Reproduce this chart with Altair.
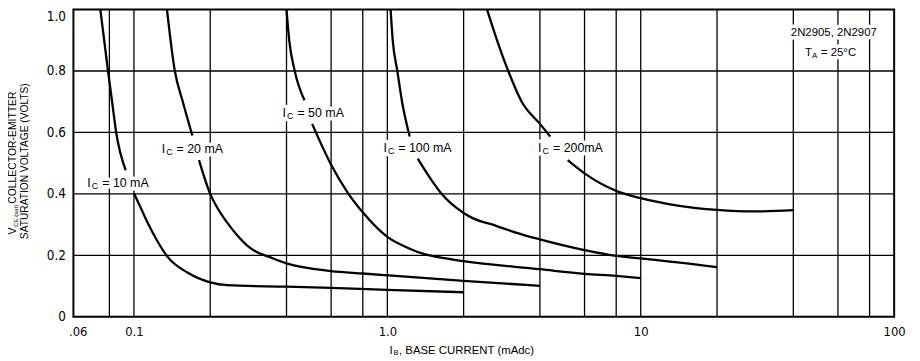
import altair as alt
import pandas as pd

# ---------------- data ----------------
# I_C = 10 mA  (segment a above the label, segment b below it)
IB_10MA_A = [0.0737, 0.079, 0.082, 0.0851, 0.0928]
VCE_10MA_A = [1.0, 0.8, 0.7, 0.6, 0.477]
IB_10MA_B = [0.1, 0.107, 0.1134, 0.123, 0.1358, 0.1626, 0.2, 0.233, 0.4, 0.6, 1.0, 2.0]
VCE_10MA_B = [0.402, 0.35, 0.305, 0.25, 0.195, 0.144, 0.112, 0.103, 0.098, 0.094, 0.088, 0.080]

# I_C = 20 mA
IB_20MA_A = [0.135, 0.145, 0.1555, 0.170]
VCE_20MA_A = [1.0, 0.8, 0.703, 0.59]
IB_20MA_B = [0.1806, 0.2, 0.215, 0.2326, 0.254, 0.28, 0.30, 0.342, 0.4, 0.6, 0.8, 1.0, 2.0, 4.0]
VCE_20MA_B = [0.51, 0.40, 0.35, 0.308, 0.268, 0.232, 0.214, 0.195, 0.174, 0.149, 0.141, 0.135, 0.117, 0.101]

# I_C = 50 mA
IB_50MA_A = [0.40, 0.41, 0.431, 0.471]
VCE_50MA_A = [1.0, 0.9, 0.8, 0.705]
IB_50MA_B = [0.505, 0.6, 0.694, 0.8, 1.0, 1.2, 1.414, 1.7, 2.0, 4.0, 6.0, 8.0, 10.0]
VCE_50MA_B = [0.628, 0.495, 0.407, 0.34, 0.26, 0.225, 0.203, 0.19, 0.181, 0.155, 0.14, 0.133, 0.126]

# I_C = 100 mA
IB_100MA_A = [1.03, 1.05, 1.095, 1.143, 1.225]
VCE_100MA_A = [1.0, 0.9, 0.8, 0.7, 0.587]
IB_100MA_B = [1.318, 1.48, 1.65, 2.0, 2.16, 2.67, 3.19, 4.0, 6.0, 8.0, 10.0, 20.0]
VCE_100MA_B = [0.515, 0.45, 0.397, 0.338, 0.322, 0.297, 0.275, 0.252, 0.217, 0.198, 0.19, 0.162]

# I_C = 200 mA
IB_200MA_A = [2.475, 2.71, 3.0, 3.39, 4.0, 4.39]
VCE_200MA_A = [1.0, 0.9, 0.8, 0.7, 0.628, 0.587]
IB_200MA_B = [5.15, 6.0, 8.0, 10.0, 14.0, 20.0, 28.0, 40.0]
VCE_200MA_B = [0.51, 0.467, 0.41, 0.386, 0.362, 0.348, 0.343, 0.347]

# grid and ticks
GRID_X = [0.08, 0.1, 0.2, 0.4, 0.6, 0.8, 1, 2, 4, 6, 8, 10, 20, 40, 60, 80]
GRID_Y = [0.2, 0.4, 0.6, 0.8]
X_TICKS = [0.06, 0.1, 1, 10, 100]
Y_TICKS = [0, 0.2, 0.4, 0.6, 0.8, 1.0]

# curve labels (left edge of label, vertical centre)
LABEL_IB = [0.0655, 0.1287, 0.386, 0.965, 3.935]
LABEL_VCE = [0.436, 0.547, 0.664, 0.549, 0.549]
LABEL_REST = ["= 10 mA", "= 20 mA", "= 50 mA", "= 100 mA", "= 200mA"]

# device note
NOTE_IB = [57.8]
NOTE_VCE = [0.924]
NOTE_TEXT = ["2N2905, 2N2907"]
TEMP_IB = [44.5]
TEMP_VCE = [0.859]

# ---------------- build tables ----------------
segments = [
    ("10a", IB_10MA_A, VCE_10MA_A), ("10b", IB_10MA_B, VCE_10MA_B),
    ("20a", IB_20MA_A, VCE_20MA_A), ("20b", IB_20MA_B, VCE_20MA_B),
    ("50a", IB_50MA_A, VCE_50MA_A), ("50b", IB_50MA_B, VCE_50MA_B),
    ("100a", IB_100MA_A, VCE_100MA_A), ("100b", IB_100MA_B, VCE_100MA_B),
    ("200a", IB_200MA_A, VCE_200MA_A), ("200b", IB_200MA_B, VCE_200MA_B),
]
curves_df = pd.DataFrame(
    [{"ib": x, "vce": y, "seg": s} for s, xs, ys in segments for x, y in zip(xs, ys)]
)
labels_df = pd.DataFrame({"ib": LABEL_IB, "vce": LABEL_VCE, "rest": LABEL_REST})
note_df = pd.DataFrame({"ib": NOTE_IB, "vce": NOTE_VCE, "t": NOTE_TEXT})
temp_df = pd.DataFrame({"ib": TEMP_IB, "vce": TEMP_VCE})
gridx_df = pd.DataFrame({"ib": GRID_X})
gridy_df = pd.DataFrame({"vce": GRID_Y})

REG = "Liberation Sans, Arial, sans-serif"
NARROW = "Liberation Sans Narrow, DejaVu Sans Condensed, sans-serif"

xscale = alt.Scale(type="log", domain=[0.0577, 100], nice=False)
yscale = alt.Scale(domain=[0, 1], nice=False, zero=False)

label_expr_x = (
    "datum.value < 0.07 ? '.06' : datum.value < 0.5 ? '0.1' : "
    "datum.value < 5 ? '1.0' : datum.value < 50 ? '10' : '100'"
)

xaxis = alt.Axis(
    values=X_TICKS, labelExpr=label_expr_x, ticks=False, domain=False, grid=False,
    title=None, labelFont=NARROW, labelFontSize=13, labelPadding=9,
    labelFlush=False, labelColor="black",
)
yaxis = alt.Axis(
    values=Y_TICKS,
    labelExpr="datum.value == 0 ? '0' : format(datum.value, '.1f')",
    ticks=False, domain=False, grid=False, title=None, labelFont=NARROW,
    labelFontSize=13.5, labelPadding=8, labelColor="black",
    labelBaseline={"expr": "datum.value >= 1 ? 'top' : 'middle'"},
)

XE = alt.X("ib:Q", scale=xscale, axis=xaxis)
YE = alt.Y("vce:Q", scale=yscale, axis=yaxis)

xgrid = alt.Chart(gridx_df).mark_rule(color="black", strokeWidth=1.3).encode(x=XE)
ygrid = alt.Chart(gridy_df).mark_rule(color="black", strokeWidth=1.3).encode(y=YE)

curves = alt.Chart(curves_df).mark_line(
    color="black", strokeWidth=2.3, interpolate="monotone"
).encode(x=XE, y=YE, detail="seg:N", order="ib:Q")


def text_layer(df, text, dx=0, dy=0, size=12.5, halo=False, align="left", field=False):
    props = dict(align=align, baseline="middle", dx=dx, dy=dy, fontSize=size, font=REG)
    if halo:
        props.update(stroke="white", strokeWidth=7, color="white", strokeJoin="round")
    else:
        props.update(color="black")
    if not field:
        props["text"] = text
    m = alt.Chart(df).mark_text(**props)
    enc = dict(x=XE, y=YE)
    if field:
        enc["text"] = alt.Text(f"{text}:N")
    return m.encode(**enc)


def label_set(halo):
    return [
        text_layer(labels_df, "I", 0, 0, 12.5, halo),
        text_layer(labels_df, "C", 4.5, 3, 9, halo),
        text_layer(labels_df, "rest", 15, 0, 12.5, halo, field=True),
        text_layer(note_df, "t", 0, 0, 11.5, halo, align="center", field=True),
        text_layer(temp_df, "T", 0, 0, 11.5, halo),
        text_layer(temp_df, "A", 7, 3, 8, halo),
        text_layer(temp_df, "= 25°C", 16, 0, 11.5, halo),
    ]


one = pd.DataFrame({"k": [0]})


def title_piece(text, px, py, size, angle=0, align="left"):
    kw = dict(text=text, align=align, baseline="middle", fontSize=size, font=REG,
              color="black")
    if angle:
        kw["angle"] = angle
    return alt.Chart(one).mark_text(**kw).encode(x=alt.value(px), y=alt.value(py))


# frame around the plot area
frame = alt.Chart(one).mark_rect(fill=None, stroke="black", strokeWidth=2).encode(
    x=alt.value(0), x2=alt.value(828), y=alt.value(0), y2=alt.value(310)
)

titles = [
    # x-axis title
    title_piece("I", 319, 344, 11.5),
    title_piece("B", 323, 347, 7.5),
    title_piece(", BASE CURRENT (mAdc)", 328.5, 344, 11.5),
    # y-axis title (rotated)
    title_piece("V", -61, 227, 10.5, 270),
    title_piece("CE (sat)", -58, 219, 6, 270),
    title_piece("COLLECTOR-EMITTER", -61, 196, 10.5, 270),
    title_piece("SATURATION VOLTAGE (VOLTS)", -48.5, 153, 10.3, 270, "center"),
]

chart = alt.layer(
    xgrid, ygrid, curves, *label_set(True), *label_set(False), frame, *titles
).properties(
    width=828, height=310,
    autosize=alt.AutoSizeParams(type="none"),
    padding={"left": 66, "top": 0, "right": 18, "bottom": 43},
).configure_view(stroke=None)

chart.save("out.html", embed_options={"renderer": "svg", "actions": False})
